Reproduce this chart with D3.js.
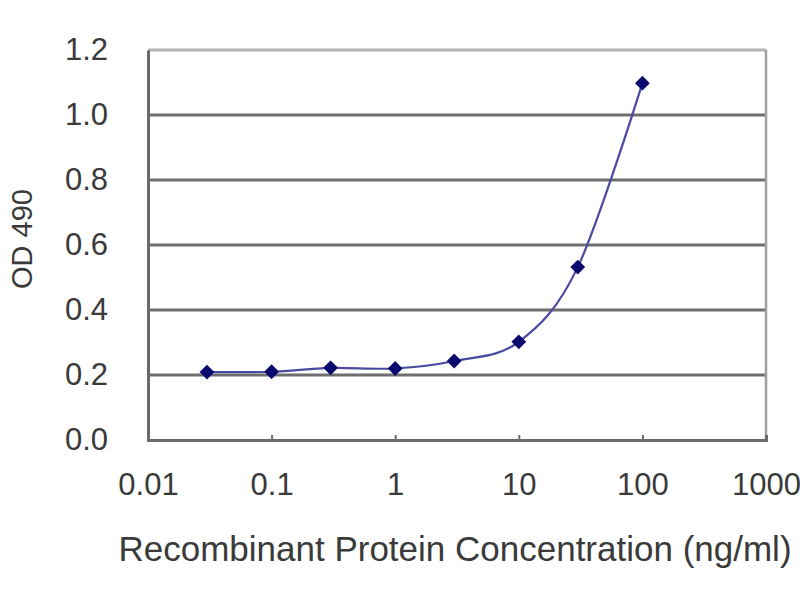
<!DOCTYPE html>
<html>
<head>
<meta charset="utf-8">
<script src="https://cdn.jsdelivr.net/npm/d3@7"></script>
<style>
  body { margin: 0; background: #fff; }
  text { font-family: "Liberation Sans", Arial, sans-serif; fill: #3a3a3a; }
</style>
</head>
<body>
<div id="chart"></div>
<script>
// Data
const concentrations = [0.03, 0.1, 0.3, 1, 3, 10, 30, 100];
const od490 = [0.209, 0.21, 0.222, 0.22, 0.243, 0.302, 0.532, 1.098];
const xTicks = [0.01, 0.1, 1, 10, 100, 1000];
const xTickLabels = ["0.01", "0.1", "1", "10", "100", "1000"];
const yTicks = [0, 0.2, 0.4, 0.6, 0.8, 1.0, 1.2];

const width = 800, height = 600;
const margin = { top: 50, right: 34, bottom: 160, left: 148 };

const svg = d3.select("#chart").append("svg")
  .attr("width", width)
  .attr("height", height);

const x = d3.scaleLog()
  .domain([0.01, 1000])
  .range([margin.left, width - margin.right]);

const y = d3.scaleLinear()
  .domain([0, 1.2])
  .range([height - margin.bottom, margin.top]);

// Horizontal gridlines
svg.append("g")
  .selectAll("line")
  .data(yTicks.filter(d => d > 0))
  .join("line")
  .attr("x1", x.range()[0])
  .attr("x2", x.range()[1])
  .attr("y1", d => y(d))
  .attr("y2", d => y(d))
  .attr("stroke", d => d === 1.2 ? "#b4b4b4" : "#6e6e6e")
  .attr("stroke-width", 3);

// Right border
svg.append("line")
  .attr("x1", x.range()[1]).attr("x2", x.range()[1])
  .attr("y1", y(1.2)).attr("y2", y(0))
  .attr("stroke", "#a0a0a0")
  .attr("stroke-width", 2.5);

// Y axis
const yAxis = svg.append("g")
  .attr("transform", `translate(${margin.left},0)`)
  .call(d3.axisLeft(y).tickValues(yTicks).tickFormat(d3.format(".1f")).tickSize(0).tickPadding(40));
yAxis.select(".domain").attr("stroke", "#6a6a6a").attr("stroke-width", 3);
yAxis.selectAll(".tick text").attr("font-size", 31).style("fill", "#3a3a3a");

// X axis
const xAxis = svg.append("g")
  .attr("transform", `translate(0,${y(0)})`)
  .call(d3.axisBottom(x).tickValues(xTicks).tickFormat((d, i) => xTickLabels[i]).tickSize(-5).tickPadding(33));
xAxis.select(".domain").attr("stroke", "#6a6a6a").attr("stroke-width", 3);
xAxis.selectAll(".tick line").attr("stroke", "#6a6a6a").attr("stroke-width", 2);
xAxis.selectAll(".tick text").attr("font-size", 31).style("fill", "#3a3a3a");

// Axis titles
svg.append("text")
  .attr("x", 455)
  .attr("y", 561)
  .attr("text-anchor", "middle")
  .attr("font-size", 35)
  .text("Recombinant Protein Concentration (ng/ml)");

svg.append("text")
  .attr("transform", `translate(32,${(y(0) + y(1.2)) / 2 - 6}) rotate(-90)`)
  .attr("text-anchor", "middle")
  .attr("font-size", 29)
  .text("OD 490");

// Series
const points = concentrations.map((c, i) => [c, od490[i]]);

const line = d3.line()
  .x(d => x(d[0]))
  .y(d => y(d[1]))
  .curve(d3.curveCatmullRom.alpha(0));

svg.append("path")
  .datum(points)
  .attr("d", line)
  .attr("fill", "none")
  .attr("stroke", "#4a4aa0")
  .attr("stroke-width", 2.2);

svg.append("g")
  .selectAll("path")
  .data(points)
  .join("path")
  .attr("transform", d => `translate(${x(d[0])},${y(d[1])}) rotate(45)`)
  .attr("d", d3.symbol(d3.symbolSquare, 110))
  .attr("fill", "#0a0a6e");
</script>
</body>
</html>
